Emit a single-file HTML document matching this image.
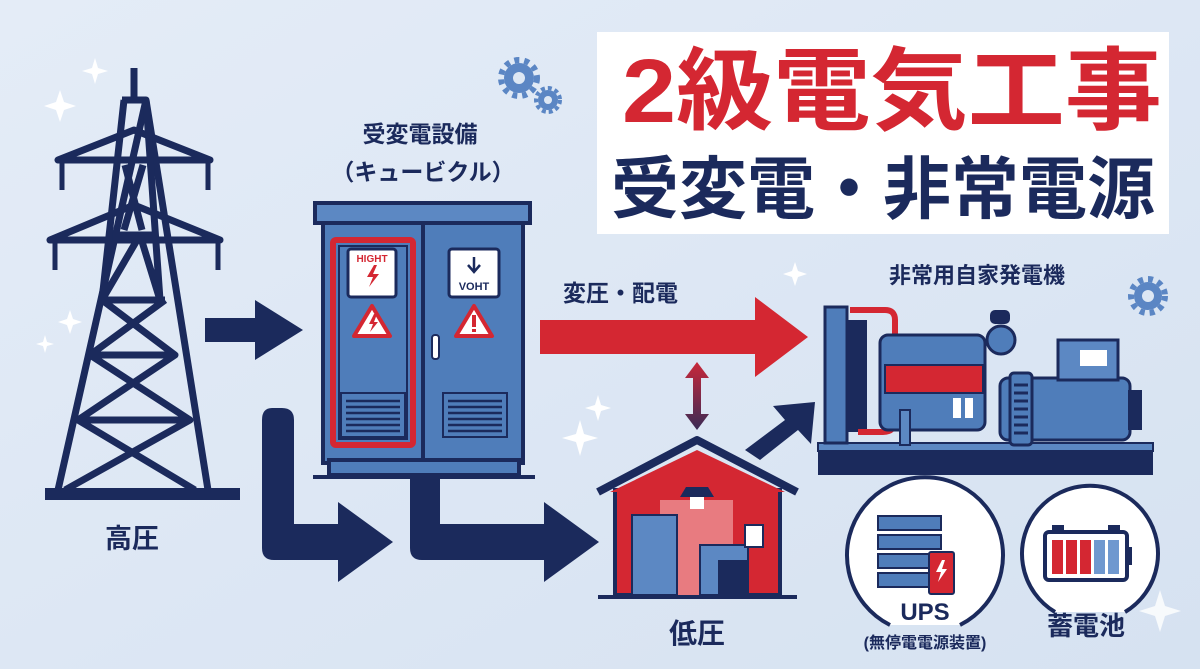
<!DOCTYPE html>
<html><head><meta charset="utf-8"><style>
html,body{margin:0;padding:0;background:#dde7f4;}
svg{display:block}
text{font-family:"Liberation Sans","Noto Sans CJK JP",sans-serif;font-weight:bold;}
</style></head><body>
<svg width="1200" height="669" viewBox="0 0 1200 669" xmlns="http://www.w3.org/2000/svg">
<defs>
<linearGradient id="bg" x1="0" y1="0" x2="1" y2="1"><stop offset="0" stop-color="#e4ecf7"/><stop offset="1" stop-color="#d6e2f1"/></linearGradient>
<linearGradient id="da" x1="0" y1="0" x2="0" y2="1"><stop offset="0" stop-color="#c8283a"/><stop offset="1" stop-color="#3a2a55"/></linearGradient>
</defs>
<rect width="1200" height="669" fill="url(#bg)"/>
<g fill="#fff">
<path d="M95 58 l3 10 10 3 -10 3 -3 10 -3 -10 -10 -3 10 -3z"/>
<path d="M60 90 l4 12 12 4 -12 4 -4 12 -4 -12 -12 -4 12 -4z"/>
<path d="M70 310 l3 9 9 3 -9 3 -3 9 -3 -9 -9 -3 9 -3z"/>
<path d="M45 335 l2 7 7 2 -7 2 -2 7 -2 -7 -7 -2 7 -2z"/>
<path d="M598 395 l3 10 10 3 -10 3 -3 10 -3 -10 -10 -3 10 -3z"/>
<path d="M580 420 l4 14 14 4 -14 4 -4 14 -4 -14 -14 -4 14 -4z"/>
<path d="M795 262 l3 9 9 3 -9 3 -3 9 -3 -9 -9 -3 9 -3z"/>
<path d="M1160 590 l5 16 16 5 -16 5 -5 16 -5 -16 -16 -5 16 -5z" opacity=".8"/>
</g>
<g fill="#5b86c4">
<circle cx="519" cy="78" r="15"/><circle cx="548" cy="100" r="10"/><circle cx="1148" cy="296" r="14"/>
</g>
<g fill="#dde7f4"><circle cx="519" cy="78" r="6"/><circle cx="548" cy="100" r="4"/><circle cx="1148" cy="296" r="6"/></g>
<g stroke="#5b86c4" stroke-width="6" stroke-dasharray="5 5"><circle cx="519" cy="78" r="18" fill="none"/><circle cx="548" cy="100" r="12" fill="none" stroke-width="4" stroke-dasharray="4 3"/><circle cx="1148" cy="296" r="17" fill="none"/></g>
<g stroke="#1b2a5c" stroke-width="7" fill="none" stroke-linejoin="round">
<path d="M134 68 L134 100 M122 100 L146 100 L58 490 M146 100 L208 490 M120 160 L148 160 M112 235 L156 235"/>
<path d="M58 160 L210 160 L134 130 Z"/>
<path d="M50 240 L220 240 L134 205 Z"/>
<path d="M124 100 L102 300 L140 235 L160 300 L146 100"/>
<path d="M102 300 L165 300 M90 355 L175 355 M78 420 L190 420 M102 300 L175 355 L78 420 L195 490 M165 300 L90 355 L190 420 L65 490"/>
<path d="M125 165 L142 230 M143 165 L124 230"/>
</g>
<g stroke="#1b2a5c" stroke-width="5"><path d="M62 162 v28 M208 162 v28 M55 242 v28 M218 242 v28"/></g>
<rect x="45" y="488" width="195" height="12" fill="#1b2a5c"/>
<text x="105" y="548" font-size="27" fill="#1b2a5c">高圧</text>
<path d="M205 318 h50 v-18 l48 30 -48 30 v-18 h-50z" fill="#1b2a5c"/>
<path d="M272 408 q-10 0 -10 12 v128 q0 12 12 12 h64 v22 l55 -40 -55 -40 v22 h-44 v-104 q0 -12 -12 -12z" fill="#1b2a5c"/>
<path d="M410 476 v72 q0 12 12 12 h122 v22 l55 -40 -55 -40 v22 h-104 v-48z" fill="#1b2a5c"/>
<path d="M745 450 l40 -30 -12 -14 42 -4 -4 42 -13 -14 -38 30z" fill="#1b2a5c"/>
<text x="420" y="142" font-size="23" fill="#1b2a5c" text-anchor="middle">受変電設備</text>
<text x="423" y="180" font-size="23" fill="#1b2a5c" text-anchor="middle">（キュービクル）</text>
<rect x="315" y="203" width="215" height="20" fill="#5c88c3" stroke="#1b2a5c" stroke-width="4"/>
<rect x="323" y="223" width="200" height="240" fill="#4f7dba" stroke="#1b2a5c" stroke-width="4"/>
<line x1="423" y1="223" x2="423" y2="460" stroke="#1b2a5c" stroke-width="4"/>
<rect x="329" y="460" width="190" height="15" fill="#4f7dba" stroke="#1b2a5c" stroke-width="4"/>
<rect x="333" y="240" width="80" height="205" fill="none" stroke="#d42732" stroke-width="6" rx="3"/>
<rect x="339" y="246" width="68" height="193" fill="none" stroke="#1b2a5c" stroke-width="2"/>
<rect x="348" y="249" width="48" height="48" fill="#fff" stroke="#1b2a5c" stroke-width="3" rx="3"/>
<text x="372" y="262" font-size="10" fill="#d42732" text-anchor="middle">HIGHT</text>
<path d="M374 265 l-7 12 h6 l-4 10 10 -13 h-6 l4 -9z" fill="#d42732"/>
<path d="M372 306 l18 30 h-36z" fill="#fff" stroke="#d42732" stroke-width="4" stroke-linejoin="round"/>
<path d="M374 314 l-5 10 h4 l-3 8 8 -10 h-4 l3 -8z" fill="#d42732"/>
<rect x="449" y="249" width="50" height="48" fill="#fff" stroke="#1b2a5c" stroke-width="3" rx="3"/>
<path d="M474 257 v14 M468 265 l6 7 6 -7" stroke="#1b2a5c" stroke-width="2.5" fill="none"/>
<text x="474" y="290" font-size="11" fill="#1b2a5c" text-anchor="middle">VOHT</text>
<path d="M474 306 l18 30 h-36z" fill="#fff" stroke="#d42732" stroke-width="4" stroke-linejoin="round"/>
<rect x="472" y="315" width="4" height="12" fill="#d42732"/><rect x="472" y="329" width="4" height="3" fill="#d42732"/>
<rect x="432" y="335" width="7" height="24" rx="3" fill="#fff" stroke="#1b2a5c" stroke-width="2"/>
<rect x="341" y="393" width="64" height="44" fill="#4f7dba" stroke="#1b2a5c" stroke-width="2"/>
<rect x="443" y="393" width="64" height="44" fill="#4f7dba" stroke="#1b2a5c" stroke-width="2"/>
<g stroke="#1b2a5c" stroke-width="2.5"><path d="M346 401h54M346 407h54M346 413h54M346 419h54M346 425h54M346 431h54M448 401h54M448 407h54M448 413h54M448 419h54M448 425h54M448 431h54"/></g>
<line x1="313" y1="477" x2="535" y2="477" stroke="#1b2a5c" stroke-width="4"/>
<text x="563" y="301" font-size="23" fill="#1b2a5c">変圧・配電</text>
<path d="M540 320 h215 v-23 l53 40 -53 40 v-23 h-215z" fill="#d42732"/>
<path d="M697 362 l-12 16 h8 v36 h-8 l12 16 12 -16 h-8 v-36 h8z" fill="url(#da)"/>
<rect x="597" y="32" width="572" height="202" fill="#fff"/>
<text x="892" y="122" font-size="90" fill="#d42732" text-anchor="middle" textLength="540" lengthAdjust="spacingAndGlyphs">2級電気工事</text>
<text x="883" y="213" font-size="68" fill="#1b2a5c" text-anchor="middle">受変電・非常電源</text>
<text x="977" y="283" font-size="22" fill="#1b2a5c" text-anchor="middle">非常用自家発電機</text>
<rect x="818" y="447" width="335" height="28" fill="#1b2a5c"/>
<rect x="818" y="443" width="335" height="8" fill="#5c88c3" stroke="#1b2a5c" stroke-width="2"/>
<rect x="825" y="307" width="22" height="136" fill="#4f7dba" stroke="#1b2a5c" stroke-width="3"/>
<rect x="847" y="320" width="20" height="112" fill="#1b2a5c"/>
<path d="M850 310 h35 q10 0 10 10 v100 q0 12 -12 12 h-25" stroke="#d42732" stroke-width="6" fill="none"/>
<rect x="880" y="335" width="105" height="95" rx="8" fill="#4f7dba" stroke="#1b2a5c" stroke-width="3"/>
<rect x="885" y="365" width="98" height="28" fill="#d42732" stroke="#1b2a5c" stroke-width="2"/>
<circle cx="1001" cy="340" r="14" fill="#4f7dba" stroke="#1b2a5c" stroke-width="3"/>
<rect x="990" y="310" width="20" height="14" rx="5" fill="#1b2a5c"/>
<rect x="953" y="398" width="8" height="20" fill="#fff"/><rect x="965" y="398" width="8" height="20" fill="#fff"/>
<rect x="900" y="410" width="10" height="35" fill="#5c88c3" stroke="#1b2a5c" stroke-width="2"/>
<rect x="1000" y="378" width="130" height="62" rx="8" fill="#4f7dba" stroke="#1b2a5c" stroke-width="3"/>
<rect x="1010" y="373" width="22" height="72" rx="4" fill="#4f7dba" stroke="#1b2a5c" stroke-width="3"/>
<g stroke="#1b2a5c" stroke-width="3"><path d="M1014 385h14M1014 393h14M1014 401h14M1014 409h14M1014 417h14M1014 425h14M1014 433h14"/></g>
<rect x="1058" y="340" width="60" height="40" fill="#5c88c3" stroke="#1b2a5c" stroke-width="3"/>
<rect x="1080" y="350" width="27" height="16" fill="#fff"/>
<rect x="1128" y="390" width="14" height="40" fill="#1b2a5c"/>
<rect x="615" y="490" width="165" height="105" fill="#d42732" stroke="#1b2a5c" stroke-width="4"/>
<path d="M598 492 L697 440 L797 492" stroke="#1b2a5c" stroke-width="8" fill="none" stroke-linejoin="round"/>
<path d="M610 492 L697 450 L785 492 Z" fill="#d42732"/>
<path d="M660 500 h73 v95 h-73z" fill="#e87b80"/>
<path d="M686 487 h22 l6 10 h-34z" fill="#1b2a5c"/><rect x="690" y="497" width="14" height="12" fill="#fff"/>
<rect x="632" y="515" width="45" height="80" fill="#5c88c3" stroke="#1b2a5c" stroke-width="2"/>
<rect x="700" y="545" width="48" height="50" fill="#5c88c3" stroke="#1b2a5c" stroke-width="2"/>
<rect x="718" y="560" width="30" height="35" fill="#1b2a5c"/>
<rect x="745" y="525" width="18" height="22" fill="#fff" stroke="#1b2a5c" stroke-width="2"/>
<line x1="598" y1="597" x2="797" y2="597" stroke="#1b2a5c" stroke-width="4"/>
<text x="697" y="643" font-size="28" fill="#1b2a5c" text-anchor="middle">低圧</text>
<path d="M890 625 A78 78 0 1 1 960 625" fill="#fff" stroke="#1b2a5c" stroke-width="4"/>
<g fill="#4f7dba" stroke="#1b2a5c" stroke-width="2"><rect x="878" y="516" width="63" height="14"/><rect x="878" y="535" width="63" height="14"/><rect x="878" y="554" width="63" height="14"/><rect x="878" y="573" width="63" height="14"/></g>
<rect x="929" y="552" width="25" height="42" rx="2" fill="#d42732" stroke="#1b2a5c" stroke-width="2"/>
<path d="M942 560 l-6 12 h5 l-3 10 9 -13 h-5 l3 -9z" fill="#fff"/>
<text x="925" y="620" font-size="24" fill="#1b2a5c" text-anchor="middle">UPS</text>
<text x="925" y="648" font-size="16" fill="#1b2a5c" text-anchor="middle">(無停電電源装置)</text>
<path d="M1055 612 A68 68 0 1 1 1125 612" fill="#fff" stroke="#1b2a5c" stroke-width="4"/>
<rect x="1045" y="532" width="82" height="48" rx="4" fill="#fff" stroke="#1b2a5c" stroke-width="4"/>
<rect x="1127" y="547" width="5" height="18" fill="#1b2a5c"/>
<rect x="1052" y="525" width="12" height="7" fill="#1b2a5c"/><rect x="1108" y="525" width="12" height="7" fill="#1b2a5c"/>
<g fill="#d42732"><rect x="1052" y="540" width="11" height="34"/><rect x="1066" y="540" width="11" height="34"/><rect x="1080" y="540" width="11" height="34"/></g>
<g fill="#6f98cf"><rect x="1094" y="540" width="11" height="34"/><rect x="1108" y="540" width="11" height="34"/></g>
<text x="1086" y="635" font-size="26" fill="#1b2a5c" text-anchor="middle">蓄電池</text>
</svg>
</body></html>
